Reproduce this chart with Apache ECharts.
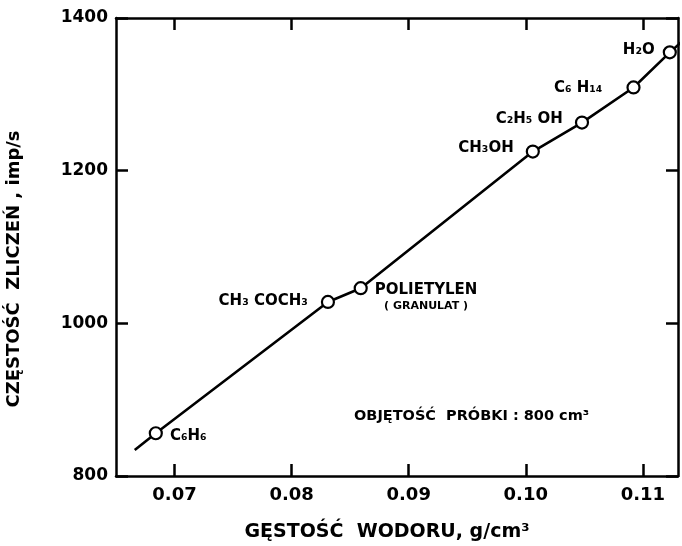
<!DOCTYPE html>
<html><head><meta charset="utf-8">
<script src="https://cdn.jsdelivr.net/npm/echarts@6/dist/echarts.min.js"></script>
<style>html,body{margin:0;background:#fff}#c{width:682px;height:546px}</style>
</head><body><div id="c"></div>
<script>
// ---- data ----
const densities = [0.0684, 0.0831, 0.0859, 0.1006, 0.1048, 0.1092, 0.1123];
const counts    = [856, 1028, 1046, 1225, 1263, 1309, 1355];
const names     = ['C₆H₆', 'CH₃ COCH₃', 'POLIETYLEN', 'CH₃OH', 'C₂H₅ OH', 'C₆ H₁₄', 'H₂O'];
const subNote   = '( GRANULAT )';
const lineStartX = 0.0666, lineStartY = 834;
const lineEndX = 0.1136, lineEndY = 1373;
const xTicks = [0.07, 0.08, 0.09, 0.10, 0.11];
const xTickLabels = ['0.07', '0.08', '0.09', '0.10', '0.11'];
const yTickLabels = ['800', '1000', '1200', '1400'];
const xTitle = 'GĘSTOŚĆ  WODORU, g/cm³';
const yTitle = 'CZĘSTOŚĆ  ZLICZEŃ , imp/s';
const note = 'OBJĘTOŚĆ  PRÓBKI : 800 cm³';

// ---- build ----
const FONT = 'DejaVu Sans';
const labelCfg = [
  {position: 'right', distance: 7, offset: [0, 3]},
  {position: 'left', distance: 13, offset: [0, -1]},
  {position: 'right', distance: 7, offset: [0, 9]},
  {position: 'left', distance: 12, offset: [0, -3]},
  {position: 'left', distance: 12, offset: [0, -3]},
  {position: 'left', distance: 24, offset: [0, 1]},
  {position: 'left', distance: 8, offset: [0, -2]}
];
const pts = densities.map((x, i) => {
  const lc = labelCfg[i];
  const label = {show: true, position: lc.position, distance: lc.distance, offset: lc.offset,
    formatter: names[i], fontFamily: FONT, fontWeight: 'bold', fontSize: 15, color: '#000'};
  if (i === 2) {
    label.formatter = '{a|' + names[i] + '}\n{b|' + subNote + '}';
    label.rich = {
      a: {fontFamily: FONT, fontWeight: 'bold', fontSize: 15, color: '#000', align: 'center', lineHeight: 18},
      b: {fontFamily: FONT, fontWeight: 'bold', fontSize: 11, color: '#000', align: 'center', lineHeight: 14}
    };
  }
  return {value: [x, counts[i]], label};
});
const linePts = [[lineStartX, lineStartY]]
  .concat(densities.map((x, i) => [x, counts[i]]))
  .concat([[lineEndX, lineEndY]]);

const XMIN = 0.065, XMAX = 0.113;
const axisLine = {show: true, onZero: false, lineStyle: {color: '#000', width: 2.5}};
const tickStyle = {show: true, inside: true, length: 12, lineStyle: {color: '#000', width: 2.5}};
const tickFont = {fontFamily: FONT, fontWeight: 'bold', fontSize: 17, color: '#000'};

const chart = echarts.init(document.getElementById('c'), null, {renderer: 'canvas'});
chart.setOption({
  backgroundColor: '#fff',
  animation: false,
  grid: {left: 116, right: 4, top: 18, bottom: 70, containLabel: false},
  xAxis: [
    {type: 'value', position: 'bottom', min: XMIN, max: XMAX, splitLine: {show: false},
     axisLine,
     axisTick: Object.assign({}, tickStyle, {customValues: xTicks}),
     axisLabel: Object.assign({}, tickFont, {fontSize: 18, customValues: xTicks, margin: 10,
       formatter: v => { const k = xTicks.findIndex(t => Math.abs(t - v) < 1e-6); return k >= 0 ? xTickLabels[k] : ''; }})},
    {type: 'value', position: 'top', min: XMIN, max: XMAX, splitLine: {show: false},
     axisLine,
     axisTick: Object.assign({}, tickStyle, {customValues: xTicks}),
     axisLabel: {show: false}}
  ],
  yAxis: [
    {type: 'value', position: 'left', min: 800, max: 1400, interval: 200, splitLine: {show: false},
     axisLine, axisTick: tickStyle,
     axisLabel: Object.assign({}, tickFont, {margin: 8,
       formatter: v => yTickLabels[Math.round((v - 800) / 200)] || ''})},
    {type: 'value', position: 'right', min: 800, max: 1400, interval: 200, splitLine: {show: false},
     axisLine, axisTick: tickStyle, axisLabel: {show: false}}
  ],
  graphic: [
    {type: 'text', x: 387, y: 532, style: {text: xTitle, font: 'bold 19px "DejaVu Sans"', fill: '#000', align: 'center', verticalAlign: 'middle'}},
    {type: 'text', x: 14, y: 269, rotation: Math.PI / 2, style: {text: yTitle, font: 'bold 18px "DejaVu Sans"', fill: '#000', align: 'center', verticalAlign: 'middle'}},
    {type: 'text', x: 354, y: 416, style: {text: note, font: 'bold 14.5px "DejaVu Sans"', fill: '#000', align: 'left', verticalAlign: 'middle'}}
  ],
  series: [
    {type: 'line', data: linePts, showSymbol: false, symbol: 'none', clip: true,
     lineStyle: {color: '#000', width: 2.6}, z: 2, silent: true},
    {type: 'scatter', data: pts, symbol: 'circle', symbolSize: 12, z: 3,
     itemStyle: {color: '#fff', borderColor: '#000', borderWidth: 2.2, opacity: 1}}
  ]
});
</script></body></html>
